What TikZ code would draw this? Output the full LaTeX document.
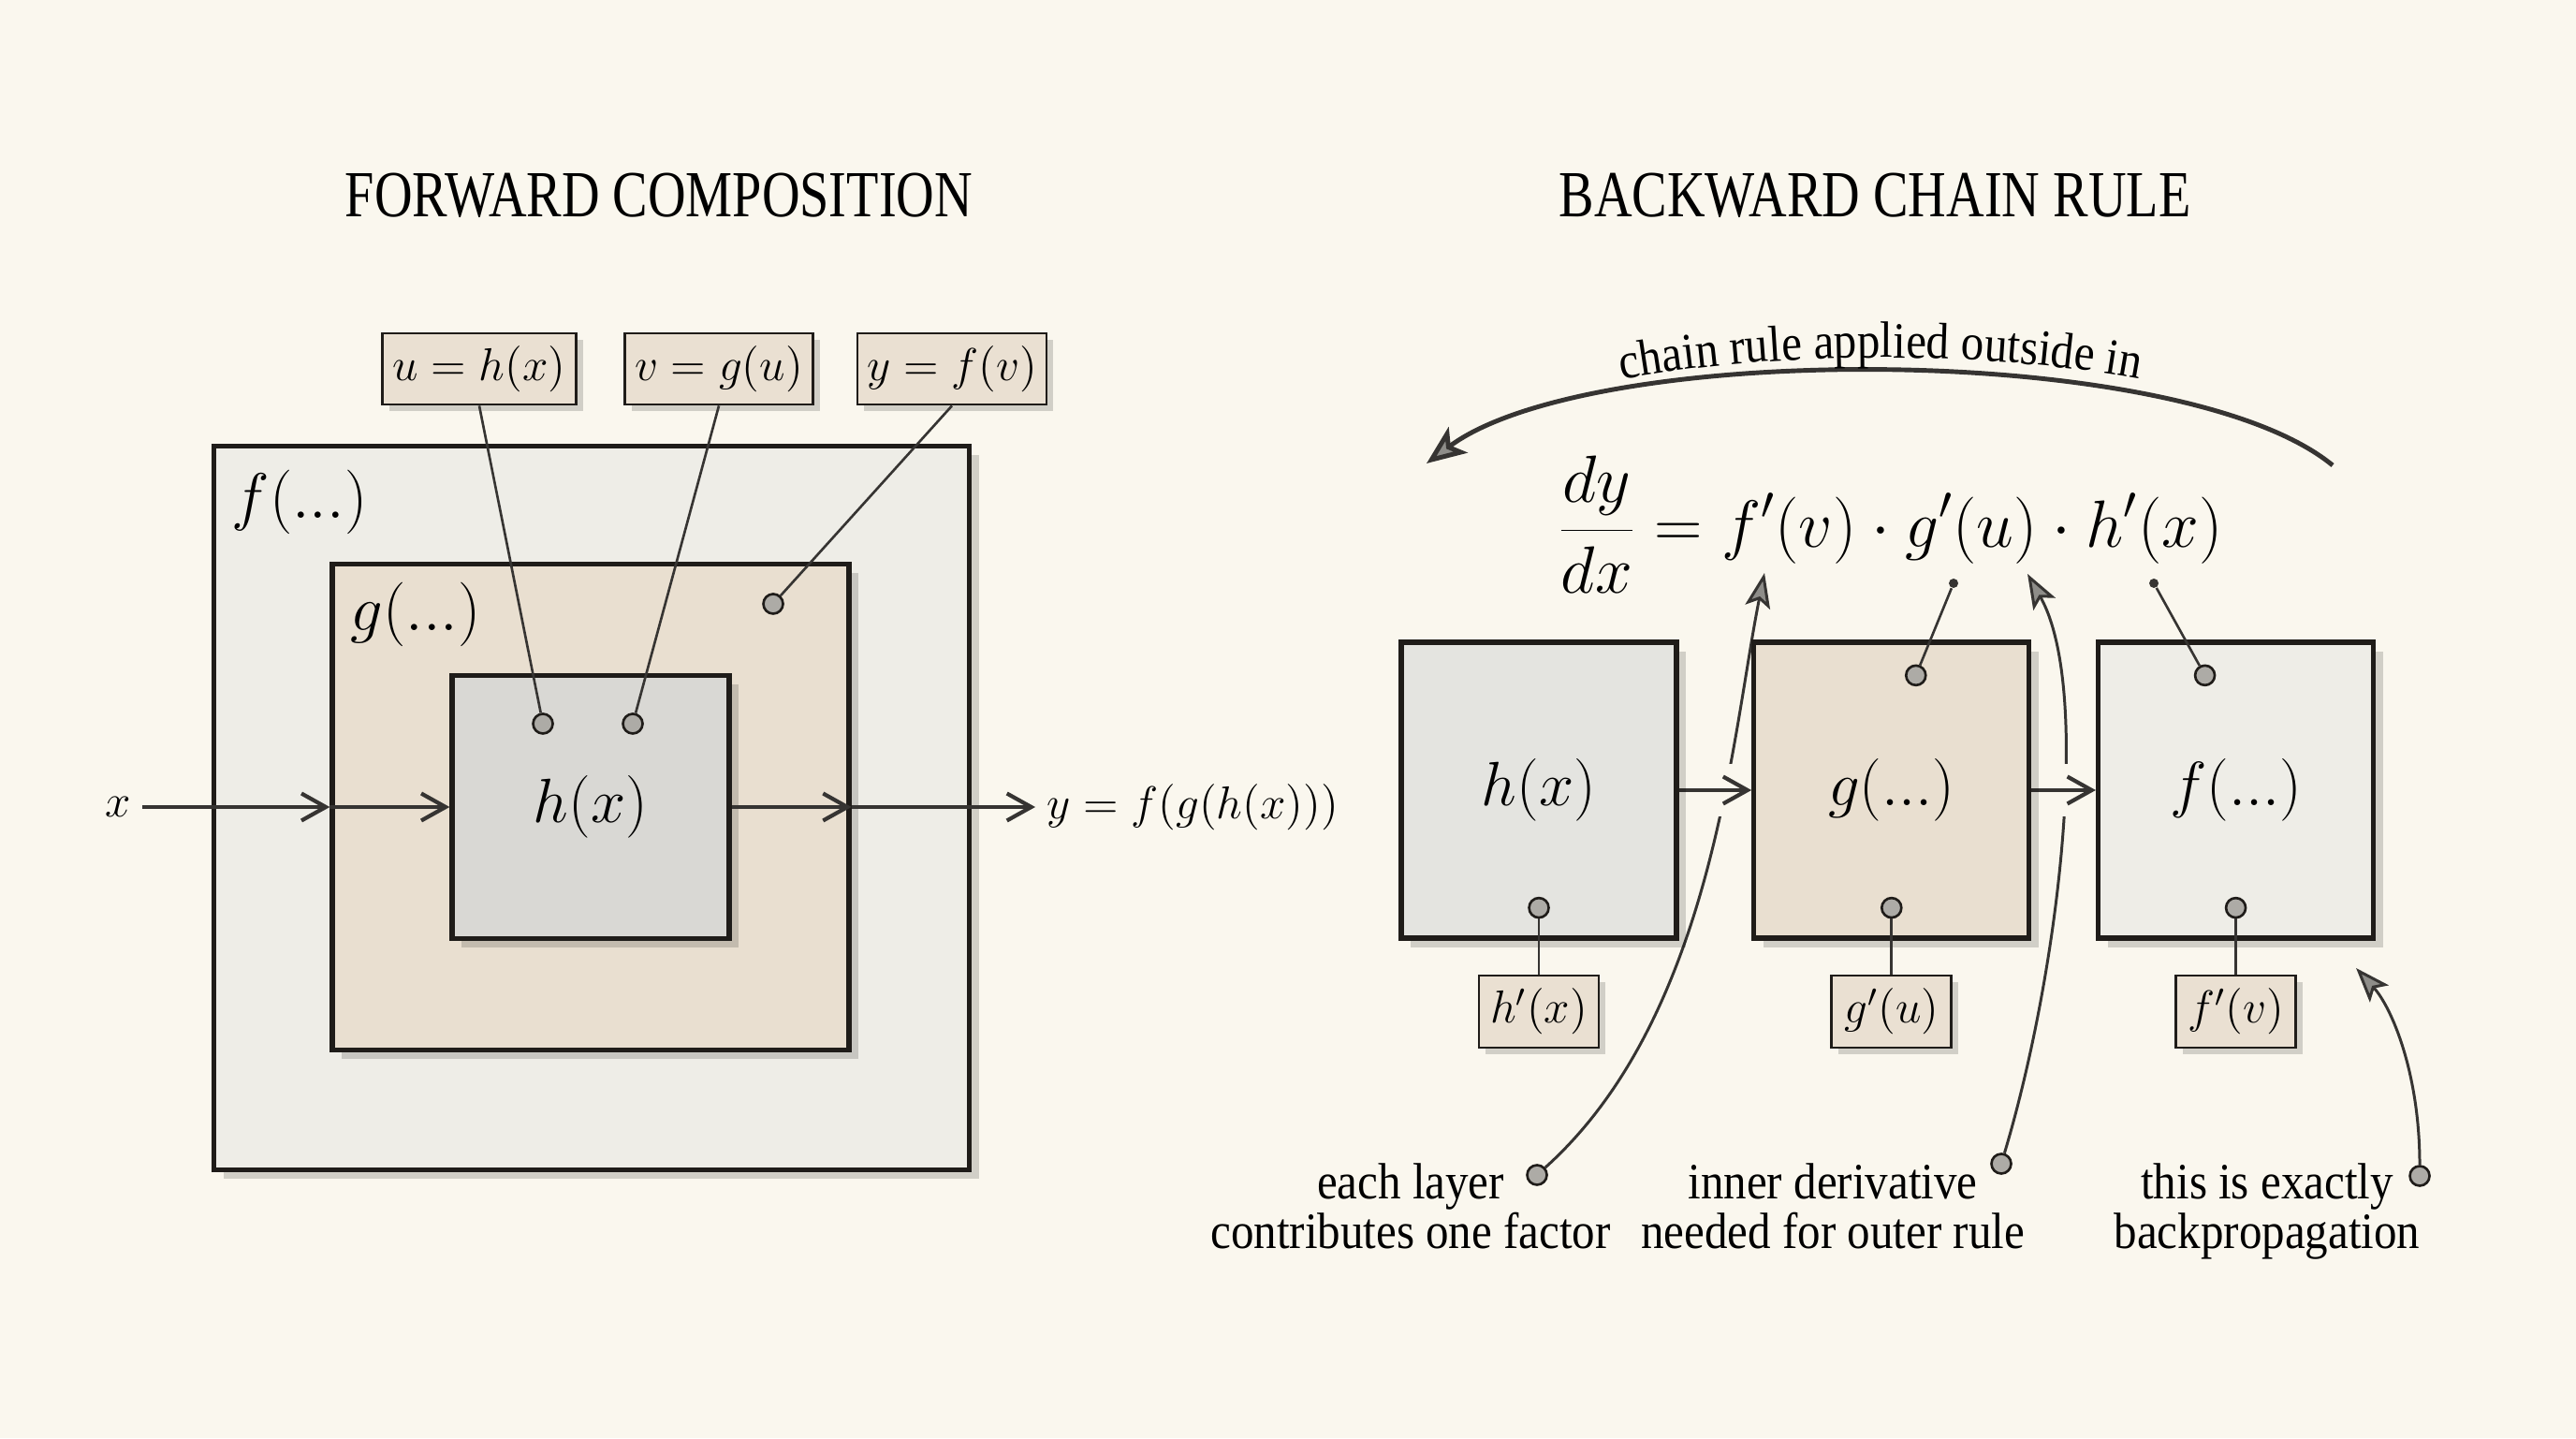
\RequirePackage{fix-cm}
\documentclass[tikz,border=0pt]{standalone}
\usepackage{fontspec}
\usepackage{xcolor}
\usepackage{tikz}
\usetikzlibrary{positioning, arrows.meta, shadows, backgrounds, decorations.text}
\newfontfamily\titlefont[FakeStretch=0.8]{Liberation Serif}
\newfontfamily\notefont[FakeStretch=0.9]{Liberation Serif}
\definecolor{paper}{HTML}{FAF7EE}
\definecolor{ink}{HTML}{1F1C19}
\definecolor{wire}{HTML}{363432}
\definecolor{outerfill}{HTML}{EEEDE7}
\definecolor{midfill}{HTML}{E9DFD0}
\definecolor{innerfill}{HTML}{D9D8D4}
\definecolor{tagfill}{HTML}{EAE0D2}
\definecolor{hfill}{HTML}{E4E4E0}
\definecolor{pin}{HTML}{ADABA6}
\definecolor{headfill}{HTML}{8E8D89}

\begin{document}
\begin{tikzpicture}[
        font=\notefont,
        title/.style={font=\titlefont\fontsize{20}{24}\selectfont, text=black},
        nest/.style={rectangle, draw=ink, line width=1.5pt, inner sep=0pt,
                drop shadow={shadow xshift=0.1cm, shadow yshift=-0.1cm,
                        opacity=0.16, fill=black}},
        layerbox/.style={nest, minimum width=2.94cm, minimum height=3.16cm,
                font=\fontsize{19}{23}\selectfont},
        tag/.style={rectangle, draw=ink, line width=0.8pt, fill=tagfill,
                inner sep=0pt, minimum height=0.76cm,
                font=\fontsize{14}{16}\selectfont,
                drop shadow={shadow xshift=0.07cm, shadow yshift=-0.07cm,
                        opacity=0.16, fill=black}},
        big/.style={font=\fontsize{19.5}{23}\selectfont, inner sep=0pt},
        pinball/.style={circle, draw=ink, fill=pin, line width=0.75pt,
                minimum size=0.21cm, inner sep=0pt},
        tick/.style={circle, fill=wire, minimum size=0.1cm, inner sep=0pt},
        lead/.style={draw=wire, line width=0.75pt},
        flow/.style={-{Straight Barb[length=2.6mm, width=2.9mm]},
                draw=wire, line width=1.2pt},
        gapline/.style={preaction={draw=paper, line width=0.56cm, arrows=-}},
        swoop/.style={-{Stealth[length=3.7mm, width=2.7mm, inset=0.8mm,
                        fill=headfill]}, draw=wire, line width=0.85pt},
        sweep/.style={-{Stealth[length=4.2mm, width=3.4mm, inset=1mm,
                        fill=headfill]}, draw=wire, line width=1.4pt},
        note/.style={font=\notefont\fontsize{15.5}{15}\selectfont,
                align=center, inner sep=0pt, anchor=north, text=black},
    ]
    \useasboundingbox (0,0) rectangle (27.52,15.36);
    \begin{pgfonlayer}{background}
        \fill[paper] (0,0) rectangle (27.52,15.36);
    \end{pgfonlayer}

    \node[title] (fwdTitle) at (7.04, 13.27) {FORWARD COMPOSITION};
    \node[title] (bwdTitle) at (20.03, 13.27) {BACKWARD CHAIN RULE};

    % forward: nested boxes
    \node[nest, fill=outerfill, minimum width=8.07cm, minimum height=7.73cm]
        (fbox) at (6.32, 6.73) {};
    \node[nest, fill=midfill, minimum width=5.52cm, minimum height=5.19cm]
        (gbox) at (6.31, 6.74) {};
    \node[nest, fill=innerfill, minimum width=2.96cm, minimum height=2.81cm,
        font=\fontsize{19}{23}\selectfont] (hbox) at (6.31, 6.74) {$h(x)$};

    \node[big, anchor=north west] (fname) at (2.47, 10.35) {$f(...)$};
    \node[big, anchor=north west] (gname) at (3.74, 9.15) {$g(...)$};

    \node[pinball] (hpinA) at (5.80, 7.63) {};
    \node[pinball] (hpinB) at (6.76, 7.63) {};
    \node[pinball] (gpin) at (8.26, 8.91) {};

    \node[tag, minimum width=2.07cm] (uTag) at (5.12, 11.42) {$u = h(x)$};
    \node[tag, minimum width=2.01cm] (vTag) at (7.68, 11.42) {$v = g(u)$};
    \node[tag, minimum width=2.02cm] (yTag) at (10.17, 11.42) {$y = f(v)$};

    \draw[lead] (uTag.south) -- (hpinA);
    \draw[lead] (vTag.south) -- (hpinB);
    \draw[lead] (yTag.south) -- (gpin);

    \node[font=\fontsize{14}{16}\selectfont] (xin) at (1.26, 6.74) {$x$};
    \node[font=\fontsize{14}{16}\selectfont, anchor=west]
        (yout) at (11.06, 6.74) {$y = f(g(h(x)))$};

    \draw[flow] (xin) -- (gbox.west);
    \draw[flow] (gbox.west) -- (hbox.west);
    \draw[flow] (hbox.east) -- (gbox.east);
    \draw[flow] (gbox.east) -- (yout);

    % backward: chain of layers
    \node[layerbox, fill=hfill] (hlay) at (16.44, 6.92) {$h(x)$};
    \node[layerbox, fill=midfill, right=0.775cm of hlay] (glay) {$g(...)$};
    \node[layerbox, fill=outerfill, right=0.685cm of glay] (flay) {$f(...)$};

    \node[tag, minimum width=1.28cm, minimum height=0.77cm,
        below=0.36cm of hlay] (hder) {$h'(x)$};
    \node[tag, minimum width=1.28cm, minimum height=0.77cm,
        below=0.36cm of glay] (gder) {$g'(u)$};
    \node[tag, minimum width=1.28cm, minimum height=0.77cm,
        below=0.36cm of flay] (fder) {$f'(v)$};

    \node[pinball] (hlow) at ([yshift=0.35cm]hlay.south) {};
    \node[pinball] (glow) at ([yshift=0.35cm]glay.south) {};
    \node[pinball] (flowpin) at ([yshift=0.35cm]flay.south) {};
    \draw[lead] (hlow) -- (hder);
    \draw[lead] (glow) -- (gder);
    \draw[lead] (flowpin) -- (fder);

    \node[pinball] (gtop) at ([xshift=0.26cm, yshift=-0.38cm]glay.north) {};
    \node[pinball] (ftop) at ([xshift=-0.33cm, yshift=-0.38cm]flay.north) {};

    \node[font=\fontsize{20.3}{24}\selectfont] (chain) at (20.19, 9.76)
        {$\displaystyle\frac{dy}{dx} = f'(v)\cdot g'(u)\cdot h'(x)$};

    \node[tick] (gtick) at (20.87, 9.13) {};
    \node[tick] (ftick) at (23.01, 9.13) {};
    \draw[lead] (gtick) -- (gtop);
    \draw[lead] (ftick) -- (ftop);

    \coordinate (arcR) at (24.92, 10.39);
    \coordinate (arcL) at (15.24, 10.41);
    \draw[sweep] (arcR) .. controls (23.3, 11.72) and (17.0, 11.72) .. (arcL);
    \path[decorate, decoration={text along path, text align=center,
            text={|\notefont\fontsize{15.5}{18}\selectfont|chain rule applied outside in}}]
        ([yshift=0.15cm]arcL) .. controls (17.0, 11.87) and (23.3, 11.87)
        .. ([yshift=0.15cm]arcR);

    \node[note] (noteLayer) at (15.07, 2.94) {each layer\\contributes one factor};
    \node[note] (noteInner) at (19.58, 2.94) {inner derivative\\needed for outer rule};
    \node[note] (noteBack) at (24.22, 2.94) {this is exactly\\backpropagation};

    \node[pinball] (layerPin) at (16.42, 2.81) {};
    \node[pinball] (innerPin) at (21.38, 2.93) {};
    \node[pinball] (backPin) at (25.85, 2.80) {};

    \coordinate (tipF) at (18.85, 9.24);
    \coordinate (tipG) at (21.66, 9.23);
    \coordinate (tipBack) at (25.17, 5.02);

    \begin{pgfonlayer}{background}
        \draw[swoop] (layerPin) .. controls (18.3, 4.5) and (18.5, 7.5) .. (tipF);
        \draw[swoop] (innerPin) .. controls (22.0, 5.0) and (22.35, 8.0) .. (tipG);
        \draw[swoop] (backPin) .. controls (25.85, 3.9) and (25.55, 4.6) .. (tipBack);
        \draw[flow, gapline] (hlay) -- (glay);
        \draw[flow, gapline] (glay) -- (flay);
    \end{pgfonlayer}
\end{tikzpicture}
\end{document}
